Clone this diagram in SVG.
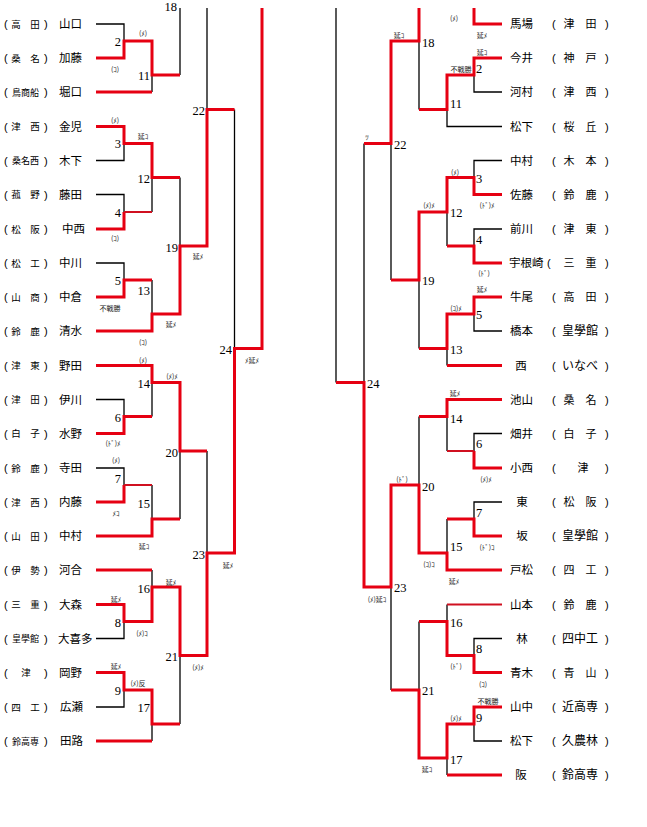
<svg xmlns="http://www.w3.org/2000/svg" width="647" height="827" viewBox="0 0 647 827">
<style>
.bg{fill:#fff}
.b{fill:none;stroke:#000;stroke-width:1.3}
.w{fill:none;stroke:#e60012;stroke-width:3}
.t{fill:none;stroke:#d01020;stroke-width:2}
.nm{font-family:"Noto Sans CJK JP","Noto Sans",sans-serif;font-size:11.5px;fill:#000}
.sc{font-family:"Noto Sans CJK JP","Noto Sans",sans-serif;font-size:9.5px;fill:#000;text-anchor:middle}
.s3{font-family:"Noto Sans CJK JP","Noto Sans",sans-serif;font-size:9px;fill:#000;text-anchor:middle}
.rs{font-family:"Noto Sans CJK JP","Noto Sans",sans-serif;font-size:11px;fill:#000;text-anchor:middle}
.r3{font-family:"Noto Sans CJK JP","Noto Sans",sans-serif;font-size:12px;fill:#000;text-anchor:middle}
.p{font-family:"Liberation Sans",sans-serif;font-size:11px;fill:#000}
.n{font-family:"Liberation Serif",serif;font-size:12.5px;fill:#000}
.ne{font-family:"Liberation Serif",serif;font-size:12.5px;fill:#000;text-anchor:end}
.a{font-family:"Noto Sans CJK JP","Noto Sans",sans-serif;font-size:7px;fill:#222;text-anchor:middle}
</style>
<rect class="bg" x="0" y="0" width="647" height="827"/>
<g id="connectors">
<!-- left black -->
<path class="b" d="M96 24H124V41"/>
<path class="b" d="M96 160.5H124V143.5"/>
<path class="b" d="M96 194.5H124V212"/>
<path class="b" d="M96 263H124V280"/>
<path class="b" d="M96 399.5H124V416.5"/>
<path class="b" d="M96 468H124V485"/>
<path class="b" d="M96 638.5H124V621.5"/>
<path class="b" d="M96 707H124V690"/>
<path class="b" d="M152 75V92"/>
<path class="b" d="M152 177.5V212"/>
<path class="b" d="M152 280V314"/>
<path class="b" d="M152 382.5V416.5"/>
<path class="b" d="M152 485V519"/>
<path class="b" d="M152 570V587"/>
<path class="b" d="M152 724V741"/>
<path class="b" d="M180 8V75"/>
<path class="b" d="M180 177.5V246"/>
<path class="b" d="M180 451V519"/>
<path class="b" d="M180 655.5V724"/>
<path class="b" d="M207 8V109.5"/>
<path class="b" d="M207 451V553"/>
<path class="b" d="M234.5 109.5V348.5" stroke="#666"/>
<!-- left red -->
<path class="w" d="M96 58H124V41H152V75H180"/>
<path class="w" d="M96 92H152"/>
<path class="w" d="M96 126.5H124V143.5H152V177.5H180"/>
<path class="w" d="M96 229H124V212"/>
<path class="t" d="M124 212H152"/>
<path class="w" d="M96 297H124V280H152"/>
<path class="w" d="M96 331H152V314H180V246H207V109.5H234.5"/>
<path class="w" d="M96 365.5H152V382.5H180V451H207"/>
<path class="w" d="M96 433.5H124V416.5H152"/>
<path class="w" d="M96 502H124V485"/>
<path class="t" d="M124 485H152"/>
<path class="w" d="M96 536H152V519H180"/>
<path class="w" d="M96 570H152"/>
<path class="w" d="M96 604.5H124V621.5H152V587H180V655.5H207V553H234.5V348.5H262V8"/>
<path class="w" d="M96 672.5H124V690H152V724H180"/>
<path class="w" d="M96 741H152"/>
<!-- right black -->
<path class="b" d="M502 92H474V75"/>
<path class="b" d="M502 126.5H447V109.5"/>
<path class="b" d="M502 160.5H474V177.5"/>
<path class="b" d="M502 229H474V246"/>
<path class="b" d="M502 331H474V314"/>
<path class="b" d="M502 433.5H474V451"/>
<path class="b" d="M502 502H474V519"/>
<path class="b" d="M502 638.5H474V655.5"/>
<path class="b" d="M502 741H474V724"/>
<path class="b" d="M419 41V109.5"/>
<path class="b" d="M447 212V246"/>
<path class="b" d="M447 348.5V365.5"/>
<path class="b" d="M447 416.5V451"/>
<path class="b" d="M447 519V553"/>
<path class="b" d="M419 280V348.5"/>
<path class="b" d="M419 416.5V485"/>
<path class="b" d="M391 143.5V280"/>
<path class="b" d="M364 143.5V382.5"/>
<path class="b" d="M447 604.5V621.5"/>
<path class="b" d="M419 621.5V690"/>
<path class="b" d="M447 758V775"/>
<path class="b" d="M391 587V690"/>
<path class="b" d="M336 8V382.5"/>
<!-- right red -->
<path class="w" d="M502 24H474V8"/>
<path class="w" d="M419 8V41H391V143.5H364"/>
<path class="w" d="M502 58H474V75H447V109.5H419"/>
<path class="w" d="M502 194.5H474V177.5H447V212H419V280H391"/>
<path class="w" d="M502 263H474V246H447"/>
<path class="w" d="M502 297H474V314H447V348.5H419"/>
<path class="w" d="M502 365.5H447"/>
<path class="w" d="M502 399.5H447V416.5H419"/>
<path class="w" d="M502 468H474V451"/>
<path class="t" d="M474 451H447"/>
<path class="w" d="M502 536H474V519H447"/>
<path class="w" d="M502 570H447V553H419V485H391V587H364V382.5H336"/>
<path class="t" d="M502 604.5H447"/>
<path class="w" d="M502 672.5H474V655.5H447V621.5H419"/>
<path class="w" d="M502 707H474V724H447V758H419V690H391"/>
<path class="w" d="M502 775H447"/>
</g>
<g id="matches-left">
<text class="ne" x="177" y="11">18</text>
<text class="ne" x="121" y="46">2</text>
<text class="ne" x="150" y="80">11</text>
<text class="ne" x="121" y="148">3</text>
<text class="ne" x="150" y="183">12</text>
<text class="ne" x="121" y="217">4</text>
<text class="ne" x="178" y="252">19</text>
<text class="ne" x="205" y="115">22</text>
<text class="ne" x="121" y="285">5</text>
<text class="ne" x="150" y="295">13</text>
<text class="ne" x="232" y="354">24</text>
<text class="ne" x="150" y="388">14</text>
<text class="ne" x="121" y="422">6</text>
<text class="ne" x="178" y="457">20</text>
<text class="ne" x="121" y="483">7</text>
<text class="ne" x="150" y="508">15</text>
<text class="ne" x="205" y="559">23</text>
<text class="ne" x="150" y="593">16</text>
<text class="ne" x="121" y="627">8</text>
<text class="ne" x="178" y="661">21</text>
<text class="ne" x="121" y="695">9</text>
<text class="ne" x="150" y="712">17</text>
</g>
<g id="matches-right">
<text class="n" x="422" y="47">18</text>
<text class="n" x="476" y="73">2</text>
<text class="n" x="450" y="108">11</text>
<text class="n" x="394" y="149">22</text>
<text class="n" x="476" y="183">3</text>
<text class="n" x="450" y="217">12</text>
<text class="n" x="476" y="244">4</text>
<text class="n" x="422" y="285">19</text>
<text class="n" x="476" y="319">5</text>
<text class="n" x="450" y="354">13</text>
<text class="n" x="367" y="388">24</text>
<text class="n" x="450" y="423">14</text>
<text class="n" x="476" y="448">6</text>
<text class="n" x="422" y="491">20</text>
<text class="n" x="476" y="517">7</text>
<text class="n" x="450" y="551">15</text>
<text class="n" x="394" y="592">23</text>
<text class="n" x="450" y="627">16</text>
<text class="n" x="476" y="653">8</text>
<text class="n" x="422" y="695">21</text>
<text class="n" x="476" y="722">9</text>
<text class="n" x="450" y="764">17</text>
</g>
<g id="results">
<text class="a" x="143" y="36">(ﾒ)</text>
<text class="a" x="115" y="72">(ｺ)</text>
<text class="a" x="115" y="123">(ﾒ)</text>
<text class="a" x="143" y="139">延ｺ</text>
<text class="a" x="115" y="241">(ｺ)</text>
<text class="a" x="198" y="259">延ﾒ</text>
<text class="a" x="110" y="311">不戦勝</text>
<text class="a" x="171" y="327">延ﾒ</text>
<text class="a" x="143" y="345">(ｺ)</text>
<text class="a" x="143" y="363">(ﾒ)</text>
<text class="a" x="172" y="379">(ﾒ)ﾒ</text>
<text class="a" x="113" y="446">(ﾄﾞ)ﾒ</text>
<text class="a" x="116" y="463">(ﾒ)</text>
<text class="a" x="116" y="516">ﾒｺ</text>
<text class="a" x="144" y="549">延ｺ</text>
<text class="a" x="171" y="585">延ﾒ</text>
<text class="a" x="116" y="602">延ﾒ</text>
<text class="a" x="142" y="636">(ﾒ)ｺ</text>
<text class="a" x="116" y="669">延ﾒ</text>
<text class="a" x="138" y="686">(ﾒ)反</text>
<text class="a" x="198" y="670">(ﾒ)ﾒ</text>
<text class="a" x="228" y="568">延ﾒ</text>
<text class="a" x="252" y="363">ﾒ延ﾒ</text>
<text class="a" x="454" y="21">(ﾒ)</text>
<text class="a" x="482" y="38">延ﾒ</text>
<text class="a" x="399" y="38">延ｺ</text>
<text class="a" x="482" y="55">延ｺ</text>
<text class="a" x="461" y="72">不戦勝</text>
<text class="a" x="367" y="140">ﾂ</text>
<text class="a" x="455" y="175">(ﾒ)</text>
<text class="a" x="429" y="208">(ﾒ)ﾒ</text>
<text class="a" x="487" y="208">(ﾄﾞ)ﾒ</text>
<text class="a" x="484" y="276">(ﾄﾞ)</text>
<text class="a" x="482" y="292">延ﾒ</text>
<text class="a" x="456" y="311">(ｺ)ﾒ</text>
<text class="a" x="455" y="396">延ﾒ</text>
<text class="a" x="486" y="482">(ﾒ)ﾒ</text>
<text class="a" x="402" y="482">(ﾄﾞ)</text>
<text class="a" x="487" y="550">(ﾄﾞ)ｺ</text>
<text class="a" x="429" y="567">(ｺ)ｺ</text>
<text class="a" x="454" y="584">延ﾒ</text>
<text class="a" x="377" y="602">(ﾒ)延ｺ</text>
<text class="a" x="456" y="669">(ﾄﾞ)</text>
<text class="a" x="483" y="687">(ｺ)</text>
<text class="a" x="488" y="704">不戦勝</text>
<text class="a" x="456" y="721">(ﾒ)ﾒ</text>
<text class="a" x="427" y="772">延ｺ</text>
</g>
<!-- left players -->
<g id="L01"><text class="p" x="4" y="28">(</text><text class="sc" x="25.5" y="27.5">高　田</text><text class="p" x="44" y="28">)</text><text class="nm" x="59" y="28">山口</text></g>
<g id="L02"><text class="p" x="4" y="62">(</text><text class="sc" x="25.5" y="61.5">桑　名</text><text class="p" x="44" y="62">)</text><text class="nm" x="59" y="62">加藤</text></g>
<g id="L03"><text class="p" x="4" y="96">(</text><text class="s3" x="25.5" y="95.5">鳥商船</text><text class="p" x="44" y="96">)</text><text class="nm" x="59" y="96">堀口</text></g>
<g id="L04"><text class="p" x="4" y="130.5">(</text><text class="sc" x="25.5" y="130">津　西</text><text class="p" x="44" y="130.5">)</text><text class="nm" x="59" y="130.5">金児</text></g>
<g id="L05"><text class="p" x="4" y="164.5">(</text><text class="s3" x="25.5" y="164">桑名西</text><text class="p" x="44" y="164.5">)</text><text class="nm" x="59" y="164.5">木下</text></g>
<g id="L06"><text class="p" x="4" y="198.5">(</text><text class="sc" x="25.5" y="198">菰　野</text><text class="p" x="44" y="198.5">)</text><text class="nm" x="59" y="198.5">藤田</text></g>
<g id="L07"><text class="p" x="4" y="233">(</text><text class="sc" x="25.5" y="232.5">松　阪</text><text class="p" x="44" y="233">)</text><text class="nm" x="62" y="233">中西</text></g>
<g id="L08"><text class="p" x="4" y="267">(</text><text class="sc" x="25.5" y="266.5">松　工</text><text class="p" x="44" y="267">)</text><text class="nm" x="59" y="267">中川</text></g>
<g id="L09"><text class="p" x="4" y="301">(</text><text class="sc" x="25.5" y="300.5">山　商</text><text class="p" x="44" y="301">)</text><text class="nm" x="59" y="301">中倉</text></g>
<g id="L10"><text class="p" x="4" y="335">(</text><text class="sc" x="25.5" y="334.5">鈴　鹿</text><text class="p" x="44" y="335">)</text><text class="nm" x="59" y="335">清水</text></g>
<g id="L11"><text class="p" x="4" y="369.5">(</text><text class="sc" x="25.5" y="369">津　東</text><text class="p" x="44" y="369.5">)</text><text class="nm" x="59" y="369.5">野田</text></g>
<g id="L12"><text class="p" x="4" y="403.5">(</text><text class="sc" x="25.5" y="403">津　田</text><text class="p" x="44" y="403.5">)</text><text class="nm" x="59" y="403.5">伊川</text></g>
<g id="L13"><text class="p" x="4" y="437.5">(</text><text class="sc" x="25.5" y="437">白　子</text><text class="p" x="44" y="437.5">)</text><text class="nm" x="59" y="437.5">水野</text></g>
<g id="L14"><text class="p" x="4" y="472">(</text><text class="sc" x="25.5" y="471.5">鈴　鹿</text><text class="p" x="44" y="472">)</text><text class="nm" x="59" y="472">寺田</text></g>
<g id="L15"><text class="p" x="4" y="506">(</text><text class="sc" x="25.5" y="505.5">津　西</text><text class="p" x="44" y="506">)</text><text class="nm" x="59" y="506">内藤</text></g>
<g id="L16"><text class="p" x="4" y="540">(</text><text class="sc" x="25.5" y="539.5">山　田</text><text class="p" x="44" y="540">)</text><text class="nm" x="59" y="540">中村</text></g>
<g id="L17"><text class="p" x="4" y="574">(</text><text class="sc" x="25.5" y="573.5">伊　勢</text><text class="p" x="44" y="574">)</text><text class="nm" x="59" y="574">河合</text></g>
<g id="L18"><text class="p" x="4" y="608.5">(</text><text class="sc" x="25.5" y="608">三　重</text><text class="p" x="44" y="608.5">)</text><text class="nm" x="59" y="608.5">大森</text></g>
<g id="L19"><text class="p" x="4" y="642.5">(</text><text class="s3" x="25.5" y="642">皇學館</text><text class="p" x="44" y="642.5">)</text><text class="nm" x="58" y="642.5">大喜多</text></g>
<g id="L20"><text class="p" x="4" y="676.5">(</text><text class="sc" x="26" y="676">津</text><text class="p" x="44" y="676.5">)</text><text class="nm" x="59" y="676.5">岡野</text></g>
<g id="L21"><text class="p" x="4" y="711">(</text><text class="sc" x="25.5" y="710.5">四　工</text><text class="p" x="44" y="711">)</text><text class="nm" x="60" y="711">広瀬</text></g>
<g id="L22"><text class="p" x="4" y="745">(</text><text class="s3" x="25.5" y="744.5">鈴高専</text><text class="p" x="44" y="745">)</text><text class="nm" x="60" y="745">田路</text></g>
<!-- right players -->
<g id="R01"><text class="nm" x="510" y="28">馬場</text><text class="p" x="552" y="28">(</text><text class="rs" x="580" y="28">津　田</text><text class="p" x="605" y="28">)</text></g>
<g id="R02"><text class="nm" x="510" y="62">今井</text><text class="p" x="552" y="62">(</text><text class="rs" x="580" y="62">神　戸</text><text class="p" x="605" y="62">)</text></g>
<g id="R03"><text class="nm" x="510" y="96">河村</text><text class="p" x="552" y="96">(</text><text class="rs" x="580" y="96">津　西</text><text class="p" x="605" y="96">)</text></g>
<g id="R04"><text class="nm" x="510" y="130.5">松下</text><text class="p" x="552" y="130.5">(</text><text class="rs" x="580" y="130.5">桜　丘</text><text class="p" x="605" y="130.5">)</text></g>
<g id="R05"><text class="nm" x="510" y="164.5">中村</text><text class="p" x="552" y="164.5">(</text><text class="rs" x="580" y="164.5">木　本</text><text class="p" x="605" y="164.5">)</text></g>
<g id="R06"><text class="nm" x="510" y="198.5">佐藤</text><text class="p" x="552" y="198.5">(</text><text class="rs" x="580" y="198.5">鈴　鹿</text><text class="p" x="605" y="198.5">)</text></g>
<g id="R07"><text class="nm" x="510" y="233">前川</text><text class="p" x="552" y="233">(</text><text class="rs" x="580" y="233">津　東</text><text class="p" x="605" y="233">)</text></g>
<g id="R08"><text class="nm" x="509" y="267">宇根崎</text><text class="p" x="547" y="267">(</text><text class="rs" x="580" y="267">三　重</text><text class="p" x="605" y="267">)</text></g>
<g id="R09"><text class="nm" x="510" y="301">牛尾</text><text class="p" x="552" y="301">(</text><text class="rs" x="580" y="301">高　田</text><text class="p" x="605" y="301">)</text></g>
<g id="R10"><text class="nm" x="510" y="335">橋本</text><text class="p" x="552" y="335">(</text><text class="r3" x="580" y="335">皇學館</text><text class="p" x="605" y="335">)</text></g>
<g id="R11"><text class="nm" x="521" y="369.5" text-anchor="middle">西</text><text class="p" x="552" y="369.5">(</text><text class="r3" x="580" y="369.5">いなべ</text><text class="p" x="605" y="369.5">)</text></g>
<g id="R12"><text class="nm" x="510" y="403.5">池山</text><text class="p" x="552" y="403.5">(</text><text class="rs" x="580" y="403.5">桑　名</text><text class="p" x="605" y="403.5">)</text></g>
<g id="R13"><text class="nm" x="510" y="437.5">畑井</text><text class="p" x="552" y="437.5">(</text><text class="rs" x="580" y="437.5">白　子</text><text class="p" x="605" y="437.5">)</text></g>
<g id="R14"><text class="nm" x="510" y="472">小西</text><text class="p" x="552" y="472">(</text><text class="rs" x="583" y="472">津</text><text class="p" x="605" y="472">)</text></g>
<g id="R15"><text class="nm" x="522" y="506" text-anchor="middle">東</text><text class="p" x="552" y="506">(</text><text class="rs" x="580" y="506">松　阪</text><text class="p" x="605" y="506">)</text></g>
<g id="R16"><text class="nm" x="522" y="540" text-anchor="middle">坂</text><text class="p" x="552" y="540">(</text><text class="r3" x="580" y="540">皇學館</text><text class="p" x="605" y="540">)</text></g>
<g id="R17"><text class="nm" x="510" y="574">戸松</text><text class="p" x="552" y="574">(</text><text class="rs" x="580" y="574">四　工</text><text class="p" x="605" y="574">)</text></g>
<g id="R18"><text class="nm" x="510" y="608.5">山本</text><text class="p" x="552" y="608.5">(</text><text class="rs" x="580" y="608.5">鈴　鹿</text><text class="p" x="605" y="608.5">)</text></g>
<g id="R19"><text class="nm" x="522" y="642.5" text-anchor="middle">林</text><text class="p" x="552" y="642.5">(</text><text class="r3" x="580" y="642.5">四中工</text><text class="p" x="605" y="642.5">)</text></g>
<g id="R20"><text class="nm" x="510" y="676.5">青木</text><text class="p" x="552" y="676.5">(</text><text class="rs" x="580" y="676.5">青　山</text><text class="p" x="605" y="676.5">)</text></g>
<g id="R21"><text class="nm" x="510" y="711">山中</text><text class="p" x="552" y="711">(</text><text class="r3" x="580" y="711">近高専</text><text class="p" x="605" y="711">)</text></g>
<g id="R22"><text class="nm" x="510" y="745">松下</text><text class="p" x="552" y="745">(</text><text class="r3" x="580" y="745">久農林</text><text class="p" x="605" y="745">)</text></g>
<g id="R23"><text class="nm" x="521" y="779" text-anchor="middle">阪</text><text class="p" x="552" y="779">(</text><text class="r3" x="580" y="779">鈴高専</text><text class="p" x="605" y="779">)</text></g>
</svg>
